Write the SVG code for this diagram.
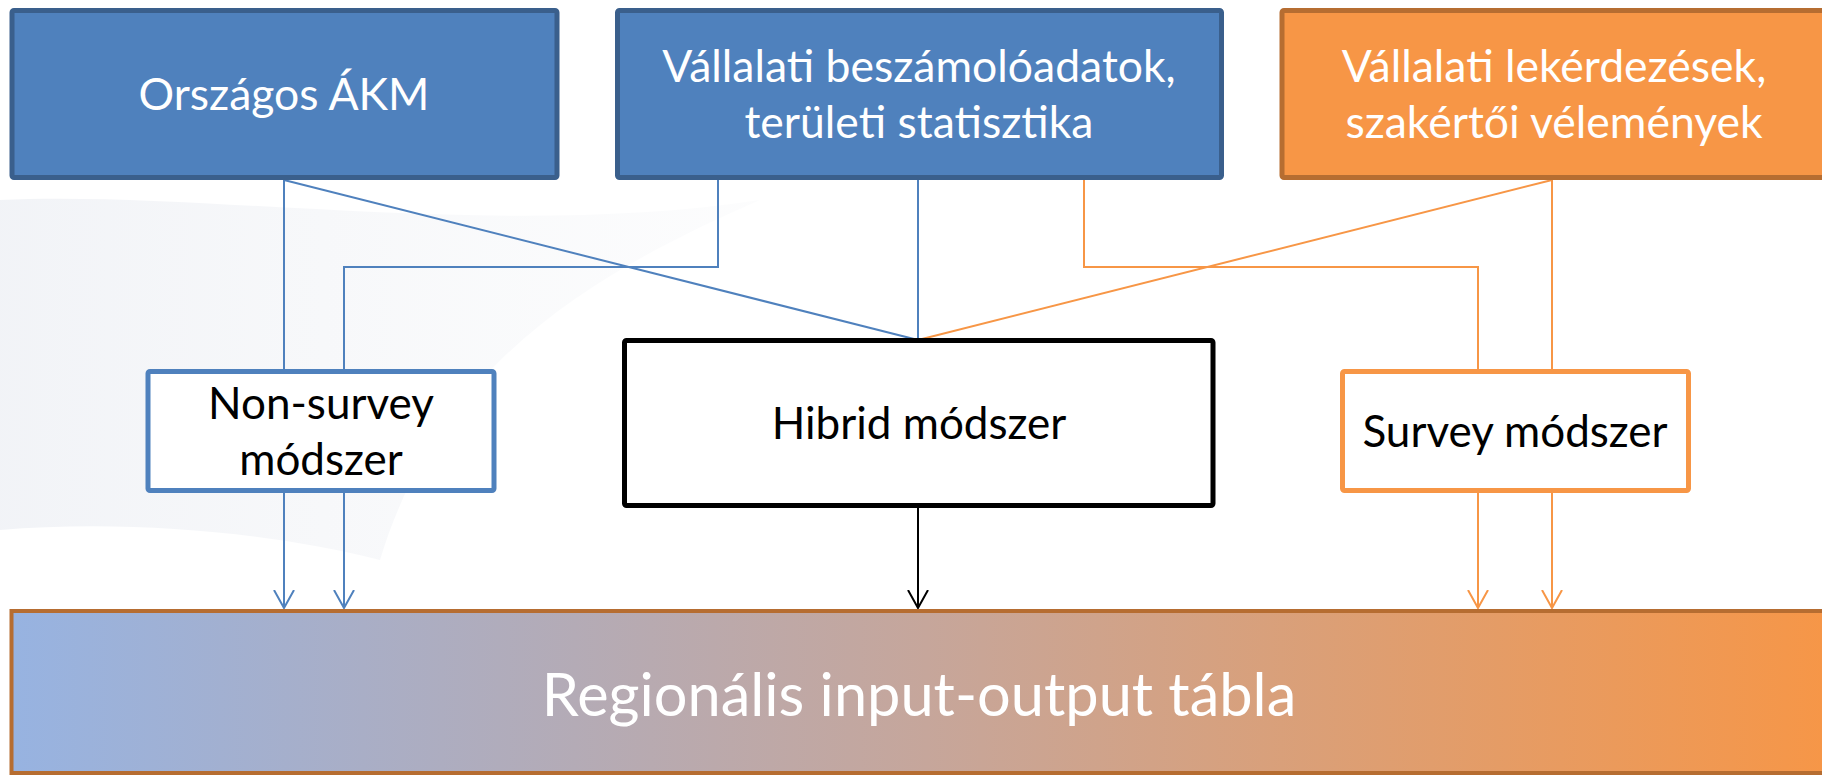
<svg xmlns="http://www.w3.org/2000/svg" width="1822" height="776" viewBox="0 0 1822 776">
<style>
.t{font-family:Lato,"Open Sans","Liberation Sans",sans-serif;text-anchor:middle}
.w{fill:#ffffff}
.k{fill:#000000}
.top{font-size:44.5px}
.mid{font-size:44px}
.big{font-size:59.5px}
.bl{stroke:#4F81BD;stroke-width:2;fill:none}
.or{stroke:#F79646;stroke-width:2;fill:none}
.bk{stroke:#000000;stroke-width:2;fill:none}
</style>
<defs>
<linearGradient id="g" x1="0" y1="0" x2="1" y2="0">
<stop offset="0" stop-color="#97B3E1"/>
<stop offset="0.5" stop-color="#C6A69B"/>
<stop offset="1" stop-color="#F79646"/>
</linearGradient>
<linearGradient id="sw" x1="0" y1="0" x2="1" y2="0">
<stop offset="0" stop-color="#F0F2F6" stop-opacity="0.9"/>
<stop offset="1" stop-color="#F6F7F9" stop-opacity="0.3"/>
</linearGradient>
<marker id="ab" viewBox="0 0 20 22" refX="18" refY="11" markerWidth="20" markerHeight="22" markerUnits="userSpaceOnUse" orient="auto">
<path d="M0,1 L18,11 L0,21" fill="none" stroke="#4F81BD" stroke-width="2"/>
</marker>
<marker id="ao" viewBox="0 0 20 22" refX="18" refY="11" markerWidth="20" markerHeight="22" markerUnits="userSpaceOnUse" orient="auto">
<path d="M0,1 L18,11 L0,21" fill="none" stroke="#F79646" stroke-width="2"/>
</marker>
<marker id="ak" viewBox="0 0 20 22" refX="18" refY="11" markerWidth="20" markerHeight="22" markerUnits="userSpaceOnUse" orient="auto">
<path d="M0,1 L18,11 L0,21" fill="none" stroke="#000000" stroke-width="2"/>
</marker>
</defs>
<rect x="0" y="0" width="1822" height="776" fill="#ffffff"/>
<path d="M0,200 C200,190 500,240 760,200 C600,270 440,360 380,560 C260,530 120,520 0,530 Z" fill="url(#sw)"/>

<g id="connectors">
<path class="bl" d="M284,180 V369"/>
<path class="bl" d="M284,180 L918,340"/>
<path class="bl" d="M718,180 V267 H344 V369"/>
<path class="bl" d="M918,180 V340"/>
<path class="or" d="M1084,180 V267 H1478 V369"/>
<path class="or" d="M1552,180 L918,340"/>
<path class="or" d="M1552,180 V369"/>
<path class="bl" d="M284,493 V608" marker-end="url(#ab)"/>
<path class="bl" d="M344,493 V608" marker-end="url(#ab)"/>
<path class="bk" d="M918,508 V608" marker-end="url(#ak)"/>
<path class="or" d="M1478,493 V608" marker-end="url(#ao)"/>
<path class="or" d="M1552,493 V608" marker-end="url(#ao)"/>
</g>

<g id="orszagos">
<rect x="12" y="10.5" width="545" height="167" rx="2" fill="#4F81BD" stroke="#3A5F8C" stroke-width="5"/>
<text class="t w top" x="284" y="110">Országos ÁKM</text>
</g>
<g id="vallalati">
<rect x="617.5" y="10.5" width="604" height="167" rx="2" fill="#4F81BD" stroke="#3A5F8C" stroke-width="5"/>
<text class="t w top" x="919" y="82">Vállalati beszámolóadatok,</text>
<text class="t w top" x="919" y="138">területi statisztika</text>
</g>
<g id="lekerdezesek">
<rect x="1282" y="10.5" width="560" height="167" rx="2" fill="#F79646" stroke="#B66D31" stroke-width="5"/>
<text class="t w top" x="1554" y="82">Vállalati lekérdezések,</text>
<text class="t w top" x="1554" y="138">szakértői vélemények</text>
</g>
<g id="nonsurvey">
<rect x="148" y="371.5" width="346" height="119" rx="2" fill="#ffffff" stroke="#4F81BD" stroke-width="5"/>
<text class="t k mid" x="321" y="419">Non-survey</text>
<text class="t k mid" x="321" y="475">módszer</text>
</g>
<g id="hibrid">
<rect x="624.5" y="340.5" width="588.5" height="165" rx="2" fill="#ffffff" stroke="#000000" stroke-width="5"/>
<text class="t k mid" x="919" y="439">Hibrid módszer</text>
</g>
<g id="survey">
<rect x="1342.5" y="371.5" width="346" height="119" rx="2" fill="#ffffff" stroke="#F79646" stroke-width="5"/>
<text class="t k mid" x="1515" y="447">Survey módszer</text>
</g>
<g id="regionalis">
<rect x="11.5" y="611" width="1830" height="162" fill="url(#g)" stroke="#B66D31" stroke-width="4"/>
<text class="t w big" x="919" y="716">Regionális input-output tábla</text>
</g>
</svg>
